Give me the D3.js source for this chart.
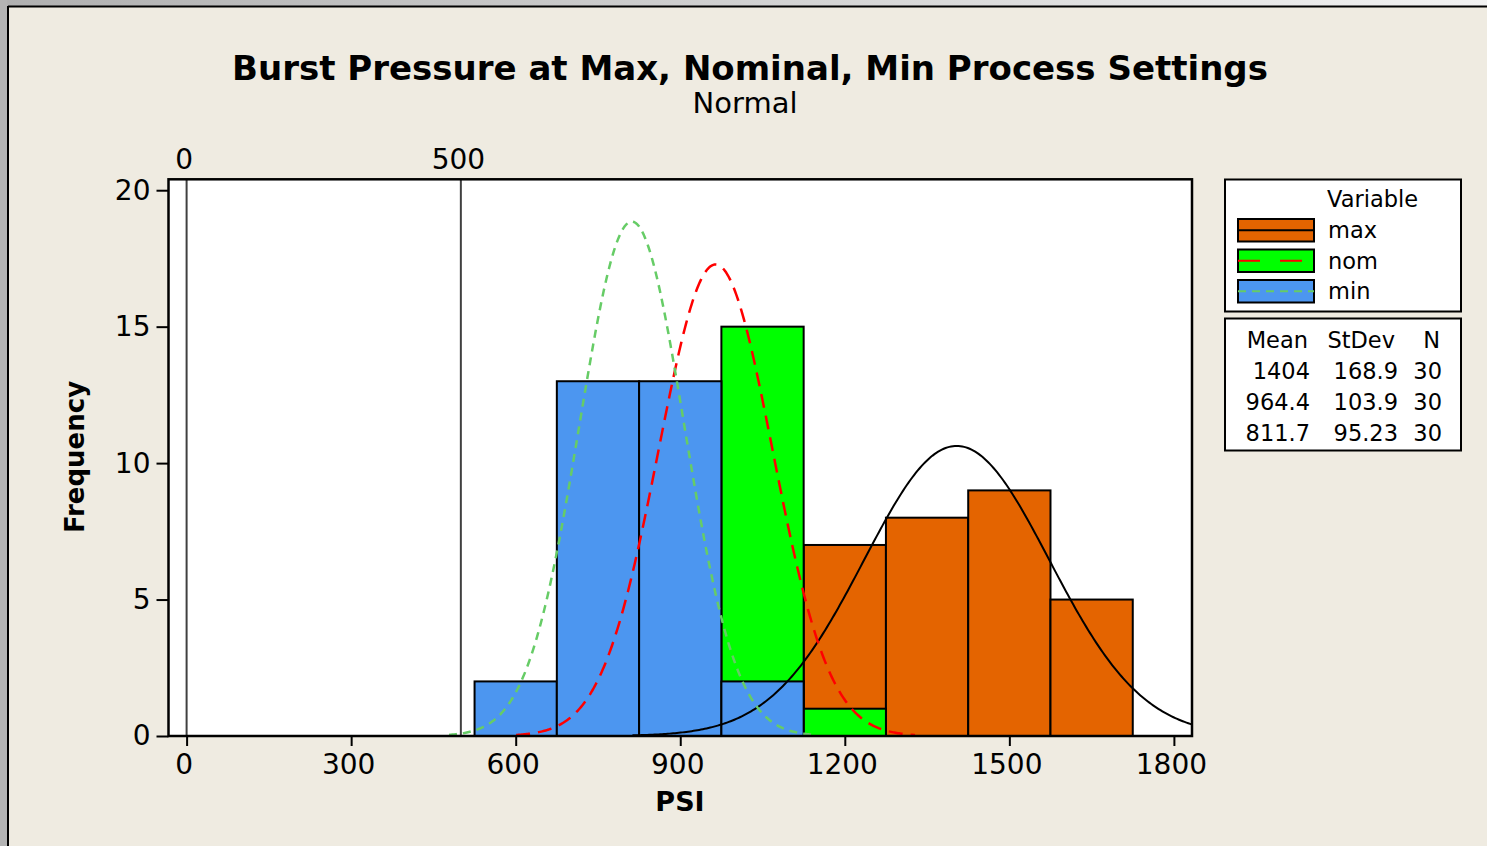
<!DOCTYPE html>
<html><head><meta charset="utf-8">
<script src="https://cdn.jsdelivr.net/npm/d3@7"></script>
<style>
html,body{margin:0;padding:0;background:#EFEBE1;overflow:hidden}
text{font-family:"DejaVu Sans",Verdana,sans-serif;fill:#000}
</style></head>
<body>
<svg id="chart" width="1487" height="846"></svg>
<script>
// ---- data ----
const categories = ["max", "nom", "min"];
const binCenters = [600, 750, 900, 1050, 1200, 1350, 1500, 1650];
const binWidth = 150;
const maxCounts = [0, 0, 0, 0, 7, 8, 9, 5];
const nomCounts = [0, 0, 0, 15, 1, 0, 0, 0];
const minCounts = [2, 13, 13, 2, 0, 0, 0, 0];
const means = [1404, 964.4, 811.7];
const stdevs = [168.9, 103.9, 95.23];
const ns = [30, 30, 30];
const meanLabels = ["1404", "964.4", "811.7"];
const stdevLabels = ["168.9", "103.9", "95.23"];
const nLabels = ["30", "30", "30"];
const xTicks = [0, 300, 600, 900, 1200, 1500, 1800];
const yTicks = [0, 5, 10, 15, 20];
const refLines = [0, 500];

const fills = ["#E46400", "#00FF00", "#4C96F0"];
const curveColors = ["#000000", "#FF0000", "#66CC66"];
const curveDash = [null, "14,8", "8,6"];
const curveWidth = [2, 2.5, 2.5];

const svg = d3.select("#chart");
const W = 1487, H = 846;

// frame
const defs = svg.append("defs");
const g1 = defs.append("linearGradient").attr("id", "topgrad").attr("x1", 0).attr("x2", 1).attr("y1", 0).attr("y2", 0);
g1.append("stop").attr("offset", "0%").attr("stop-color", "#B0B0B0");
g1.append("stop").attr("offset", "100%").attr("stop-color", "#F2F2F2");
svg.append("rect").attr("x", 0).attr("y", 0).attr("width", W).attr("height", H).attr("fill", "#EFEBE1");
svg.append("rect").attr("x", 0).attr("y", 0).attr("width", W).attr("height", 6).attr("fill", "url(#topgrad)");
svg.append("rect").attr("x", 0).attr("y", 0).attr("width", 7).attr("height", H).attr("fill", "#B4B4B4");
svg.append("line").attr("x1", 8).attr("x2", W).attr("y1", 6.5).attr("y2", 6.5).attr("stroke", "#000").attr("stroke-width", 2);
svg.append("line").attr("x1", 8).attr("x2", 8).attr("y1", 6).attr("y2", H).attr("stroke", "#000").attr("stroke-width", 2);

// scales
const L = 168.5, R = 1192, T = 179.3, B = 736;
const x = d3.scaleLinear().domain([-33, 1833]).range([L, R]);
const y = d3.scaleLinear().domain([0, 20.4]).range([B, T]);

// title
svg.append("text").attr("x", 750).attr("y", 80).attr("text-anchor", "middle")
  .attr("font-weight", "bold").attr("font-size", 34)
  .text("Burst Pressure at Max, Nominal, Min Process Settings");
svg.append("text").attr("x", 745).attr("y", 113).attr("text-anchor", "middle")
  .attr("font-size", 29).text("Normal");

// plot background
svg.append("rect").attr("x", L).attr("y", T).attr("width", R - L).attr("height", B - T).attr("fill", "#fff");
defs.append("clipPath").attr("id", "plotclip").append("rect")
  .attr("x", L).attr("y", T).attr("width", R - L).attr("height", B - T);

// reference lines
svg.selectAll(".ref").data(refLines).enter().append("line")
  .attr("x1", d => x(d)).attr("x2", d => x(d)).attr("y1", T).attr("y2", B)
  .attr("stroke", "#404040").attr("stroke-width", 2);

// bars
const countsList = [maxCounts, nomCounts, minCounts];
countsList.forEach((counts, i) => {
  svg.append("g").selectAll("rect").data(binCenters.map((c, j) => ({c, v: counts[j]})).filter(d => d.v > 0))
    .enter().append("rect")
    .attr("x", d => x(d.c - binWidth / 2)).attr("width", d => x(d.c + binWidth / 2) - x(d.c - binWidth / 2))
    .attr("y", d => y(d.v)).attr("height", d => y(0) - y(d.v))
    .attr("fill", fills[i]).attr("stroke", "#000").attr("stroke-width", 2);
});

// fitted normal curves
const cg = svg.append("g").attr("clip-path", "url(#plotclip)");
means.forEach((m, i) => {
  const s = stdevs[i], n = ns[i];
  const pts = d3.range(-3.5, 3.5001, 0.02).map(z => {
    const v = m + z * s;
    return [v, n * binWidth * Math.exp(-0.5 * z * z) / (s * Math.sqrt(2 * Math.PI))];
  });
  cg.append("path").datum(pts)
    .attr("d", d3.line().x(d => x(d[0])).y(d => y(d[1])))
    .attr("fill", "none").attr("stroke", curveColors[i]).attr("stroke-width", curveWidth[i])
    .attr("stroke-dasharray", curveDash[i]);
});

// plot frame
svg.append("rect").attr("x", L).attr("y", T).attr("width", R - L).attr("height", B - T)
  .attr("fill", "none").attr("stroke", "#000").attr("stroke-width", 2.5);

// axes
const xAxis = svg.append("g").attr("transform", `translate(0,${B})`)
  .call(d3.axisBottom(x).tickValues(xTicks).tickSize(10).tickPadding(8).tickFormat(d3.format("d")));
const yAxis = svg.append("g").attr("transform", `translate(${L},0)`)
  .call(d3.axisLeft(y).tickValues(yTicks).tickSize(12).tickPadding(6).tickFormat(d3.format("d")));
const topAxis = svg.append("g").attr("transform", `translate(0,${T})`)
  .call(d3.axisTop(x).tickValues(refLines).tickSize(0).tickPadding(10).tickFormat(d3.format("d")));
[xAxis, yAxis, topAxis].forEach(a => {
  a.select(".domain").remove();
  a.selectAll("line").attr("stroke", "#000").attr("stroke-width", 2);
  a.selectAll("text").attr("font-size", 28).attr("font-family", "DejaVu Sans, Verdana, sans-serif").attr("fill", "#000");
});
xAxis.selectAll("text").attr("dx", -3);
topAxis.selectAll("text").attr("dx", -3);

// axis titles
svg.append("text").attr("x", 680).attr("y", 811).attr("text-anchor", "middle")
  .attr("font-weight", "bold").attr("font-size", 27).text("PSI");
svg.append("text").attr("transform", "translate(84,457) rotate(-90)").attr("text-anchor", "middle")
  .attr("font-weight", "bold").attr("font-size", 26).text("Frequency");

// legend box
const fs = 22.5;
const lg = svg.append("g");
lg.append("rect").attr("x", 1225).attr("y", 179.5).attr("width", 236).attr("height", 132)
  .attr("fill", "#fff").attr("stroke", "#000").attr("stroke-width", 2);
lg.append("text").attr("x", 1327).attr("y", 207).attr("font-size", fs).text("Variable");
const swY = [219, 249.5, 280];
categories.forEach((c, i) => {
  lg.append("rect").attr("x", 1238).attr("y", swY[i]).attr("width", 76).attr("height", 22.5)
    .attr("fill", fills[i]).attr("stroke", "#000").attr("stroke-width", 2);
  lg.append("line").attr("x1", 1238).attr("x2", 1314).attr("y1", swY[i] + 11.25).attr("y2", swY[i] + 11.25)
    .attr("stroke", curveColors[i]).attr("stroke-width", 2)
    .attr("stroke-dasharray", i === 1 ? "22,20" : curveDash[i]);
  lg.append("text").attr("x", 1328).attr("y", swY[i] + 19).attr("font-size", fs).text(c);
});

// stats box
const sg = svg.append("g");
sg.append("rect").attr("x", 1225).attr("y", 318.5).attr("width", 236).attr("height", 132)
  .attr("fill", "#fff").attr("stroke", "#000").attr("stroke-width", 2);
sg.append("text").attr("x", 1308).attr("y", 348).attr("text-anchor", "end").attr("font-size", fs).text("Mean");
sg.append("text").attr("x", 1395).attr("y", 348).attr("text-anchor", "end").attr("font-size", fs).text("StDev");
sg.append("text").attr("x", 1440).attr("y", 348).attr("text-anchor", "end").attr("font-size", fs).text("N");
const rowY = [379, 410, 441];
rowY.forEach((ry, i) => {
  sg.append("text").attr("x", 1310).attr("y", ry).attr("text-anchor", "end").attr("font-size", fs).text(meanLabels[i]);
  sg.append("text").attr("x", 1398).attr("y", ry).attr("text-anchor", "end").attr("font-size", fs).text(stdevLabels[i]);
  sg.append("text").attr("x", 1442).attr("y", ry).attr("text-anchor", "end").attr("font-size", fs).text(nLabels[i]);
});
</script>
</body></html>
